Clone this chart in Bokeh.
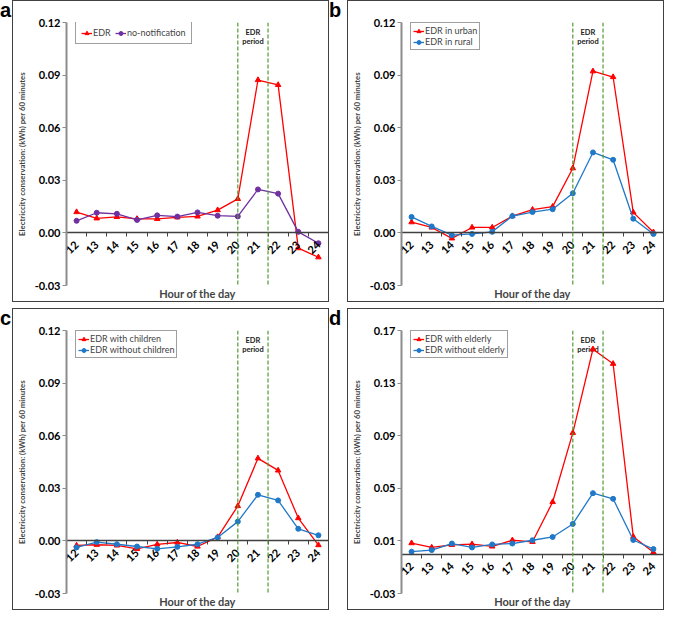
import math
from bokeh.plotting import figure
from bokeh.models import (Range1d, FixedTicker, LinearAxis, Span, Label, Title,
                          Legend, LegendItem, NumeralTickFormatter, Div)
from bokeh.layouts import row, column
from bokeh.embed import file_html
from bokeh.resources import INLINE
from bokeh.core.properties import value

# ---------------- data ----------------
hours = [12, 13, 14, 15, 16, 17, 18, 19, 20, 21, 22, 23, 24]

a_edr = [0.0119, 0.0083, 0.0091, 0.0080, 0.0080, 0.0089, 0.0094, 0.0130, 0.0194, 0.0872, 0.0844, -0.0087, -0.0139]
a_nonotif = [0.0069, 0.0115, 0.0109, 0.0074, 0.0100, 0.0093, 0.0117, 0.0098, 0.0094, 0.0248, 0.0224, 0.0006, -0.0059]

b_urban = [0.0061, 0.0031, -0.0031, 0.0031, 0.0031, 0.0096, 0.0133, 0.0150, 0.0369, 0.0922, 0.0889, 0.0117, 0.0004]
b_rural = [0.0091, 0.0037, -0.0013, -0.0006, 0.0006, 0.0096, 0.0119, 0.0135, 0.0226, 0.0459, 0.0417, 0.0081, -0.0006]

c_with = [-0.0026, -0.0022, -0.0026, -0.0045, -0.0020, -0.0009, -0.0032, 0.0022, 0.0199, 0.0471, 0.0402, 0.0130, -0.0024]
c_without = [-0.0037, -0.0007, -0.0019, -0.0032, -0.0045, -0.0034, -0.0019, 0.0020, 0.0110, 0.0263, 0.0231, 0.0069, 0.0032]

d_with = [0.0083, 0.0050, 0.0070, 0.0075, 0.0058, 0.0105, 0.0093, 0.0396, 0.0922, 0.1558, 0.1447, 0.0132, 0.0013]
d_without = [0.0018, 0.0030, 0.0080, 0.0050, 0.0073, 0.0080, 0.0105, 0.0130, 0.0229, 0.0463, 0.0420, 0.0107, 0.0038]

yticks_abc = [-0.03, 0.00, 0.03, 0.06, 0.09, 0.12]
yticks_d = [-0.03, 0.01, 0.05, 0.09, 0.13, 0.17]

edr_start = 20
edr_end = 21.5

titles = ["Total households", "Urban / Rural households",
          "Households with / without children", "Households with / without elderly"]
panel_letters = ["a", "b", "c", "d"]
y_label = "Electriccity conservation: (kWh) per 60 minutes"
x_label = "Hour of the day"

# ---------------- style ----------------
FONT = "Lato"
RED = "#FF0000"
PURPLE = "#7030A0"
BLUE = "#1F78C8"
GREEN = "#4F9A2E"
W, H = 317, 302
BL, BR, BT, BB = 49, 2, 21, 18
FH = H - BT - BB


def panel(title, name1, s1, name2, s2, color2, yticks, horizontal_legend=False, title_shift=0):
    p = figure(width=W, height=H, output_backend="svg", toolbar_location=None,
               x_axis_type=None, x_range=Range1d(hours[0] - 0.5, hours[-1] + 0.5),
               y_range=Range1d(yticks[0], yticks[-1]),
               min_border_left=BL, min_border_right=BR, min_border_top=BT, min_border_bottom=BB,
               styles={"border": "1px solid #404040"})
    p.grid.visible = False
    p.outline_line_color = None
    p.background_fill_color = "white"
    p.border_fill_color = "white"

    # y axis
    ya = p.yaxis[0]
    ya.ticker = FixedTicker(ticks=yticks)
    ya.formatter = NumeralTickFormatter(format="0.00")
    ya.axis_line_color = "#8C8C8C"
    ya.axis_line_width = 2
    ya.major_tick_line_color = "#8C8C8C"
    ya.major_tick_out = 4
    ya.major_tick_in = 0
    ya.minor_tick_line_color = None
    ya.major_label_text_font = FONT
    ya.major_label_text_font_style = "bold"
    ya.major_label_text_font_size = "11px"
    ya.major_label_text_color = "black"
    ya.major_label_standoff = 2
    ya.axis_label = y_label
    ya.axis_label_text_font = FONT
    ya.axis_label_text_font_style = "bold"
    ya.axis_label_text_font_size = "7.8px"
    ya.axis_label_standoff = 5

    # x axis crossing at y = 0
    minor = [h - 0.5 for h in hours] + [hours[-1] + 0.5]
    xa = LinearAxis(fixed_location=0, ticker=FixedTicker(ticks=hours, minor_ticks=minor),
                    major_label_orientation=math.pi / 4,
                    major_tick_out=0, major_tick_in=0,
                    minor_tick_out=4, minor_tick_in=0,
                    minor_tick_line_color="#404040",
                    axis_line_color="#404040", axis_line_width=1.3,
                    major_label_text_font=FONT, major_label_text_font_style="bold",
                    major_label_text_font_size="11px", major_label_text_color="black",
                    major_label_standoff=6)
    p.add_layout(xa, "below")

    p.add_layout(Title(text=x_label, align="center", vertical_align="top", text_font=FONT,
                       text_font_size="11px", text_font_style="bold", standoff=2), "below")

    # EDR period lines
    for loc in (edr_start, edr_end):
        p.add_layout(Span(location=loc, dimension="height", line_color=GREEN,
                          line_dash="4 2", line_width=1.2))
    mid = (edr_start + edr_end) / 2
    p.text(x=[mid, mid], y=[yticks[-1], yticks[-1]], text=["EDR", "period"],
           y_offset=[10, 19], text_align="center", text_baseline="middle",
           text_font=value(FONT), text_font_style="bold", text_font_size="7.5px",
           text_color="#222222")

    # series
    l1 = p.line(hours, s1, line_color=RED, line_width=1.3)
    m1 = p.scatter(hours, s1, marker="triangle", size=5.5, fill_color=RED, line_color=RED)
    l2 = p.line(hours, s2, line_color=color2, line_width=1.3)
    m2 = p.scatter(hours, s2, marker="circle", size=5, fill_color=color2, line_color=color2)

    n_rows = 1 if horizontal_legend else 2
    pad = 5 if horizontal_legend else 2
    leg_h = 2 * pad + 12 * n_rows
    legend = Legend(items=[LegendItem(label=name1, renderers=[l1, m1]),
                           LegendItem(label=name2, renderers=[l2, m2])],
                    location=(9, FH - leg_h),
                    orientation="horizontal" if horizontal_legend else "vertical",
                    label_text_font=FONT, label_text_font_size="9px",
                    glyph_width=11, glyph_height=10, label_height=10,
                    label_standoff=1, padding=pad, spacing=0 if not horizontal_legend else 2,
                    margin=0,
                    border_line_color="#404040", border_line_width=1,
                    background_fill_color="white", background_fill_alpha=1)
    p.add_layout(legend)

    # chart title
    p.add_layout(Label(x=W / 2 - BL + title_shift, y=FH + BT - 11, x_units="screen", y_units="screen",
                       text=title, text_align="center", text_baseline="middle",
                       text_font=FONT, text_font_size="12px", text_color="#222222"))
    return p


pa = panel(titles[0], "EDR", a_edr, "no-notification", a_nonotif, PURPLE, yticks_abc,
           horizontal_legend=True, title_shift=-13)
pb = panel(titles[1], "EDR in urban", b_urban, "EDR in rural", b_rural, BLUE, yticks_abc)
pc = panel(titles[2], "EDR with children", c_with, "EDR without children", c_without, BLUE, yticks_abc)
pd = panel(titles[3], "EDR with elderly", d_with, "EDR without elderly", d_without, BLUE, yticks_d)


def letter(t, w):
    return Div(text=t, width=w, height=30,
               styles={"font-size": "20px", "font-weight": "bold", "font-family": "Liberation Sans",
                       "line-height": "1", "margin": "0", "padding": "0"})


layout = column(
    row(letter(panel_letters[0], 12), pa, letter(panel_letters[1], 18), pb),
    row(letter(panel_letters[2], 12), pc, letter(panel_letters[3], 18), pd),
    spacing=6)

open("out.html", "w").write(file_html(layout, INLINE))
